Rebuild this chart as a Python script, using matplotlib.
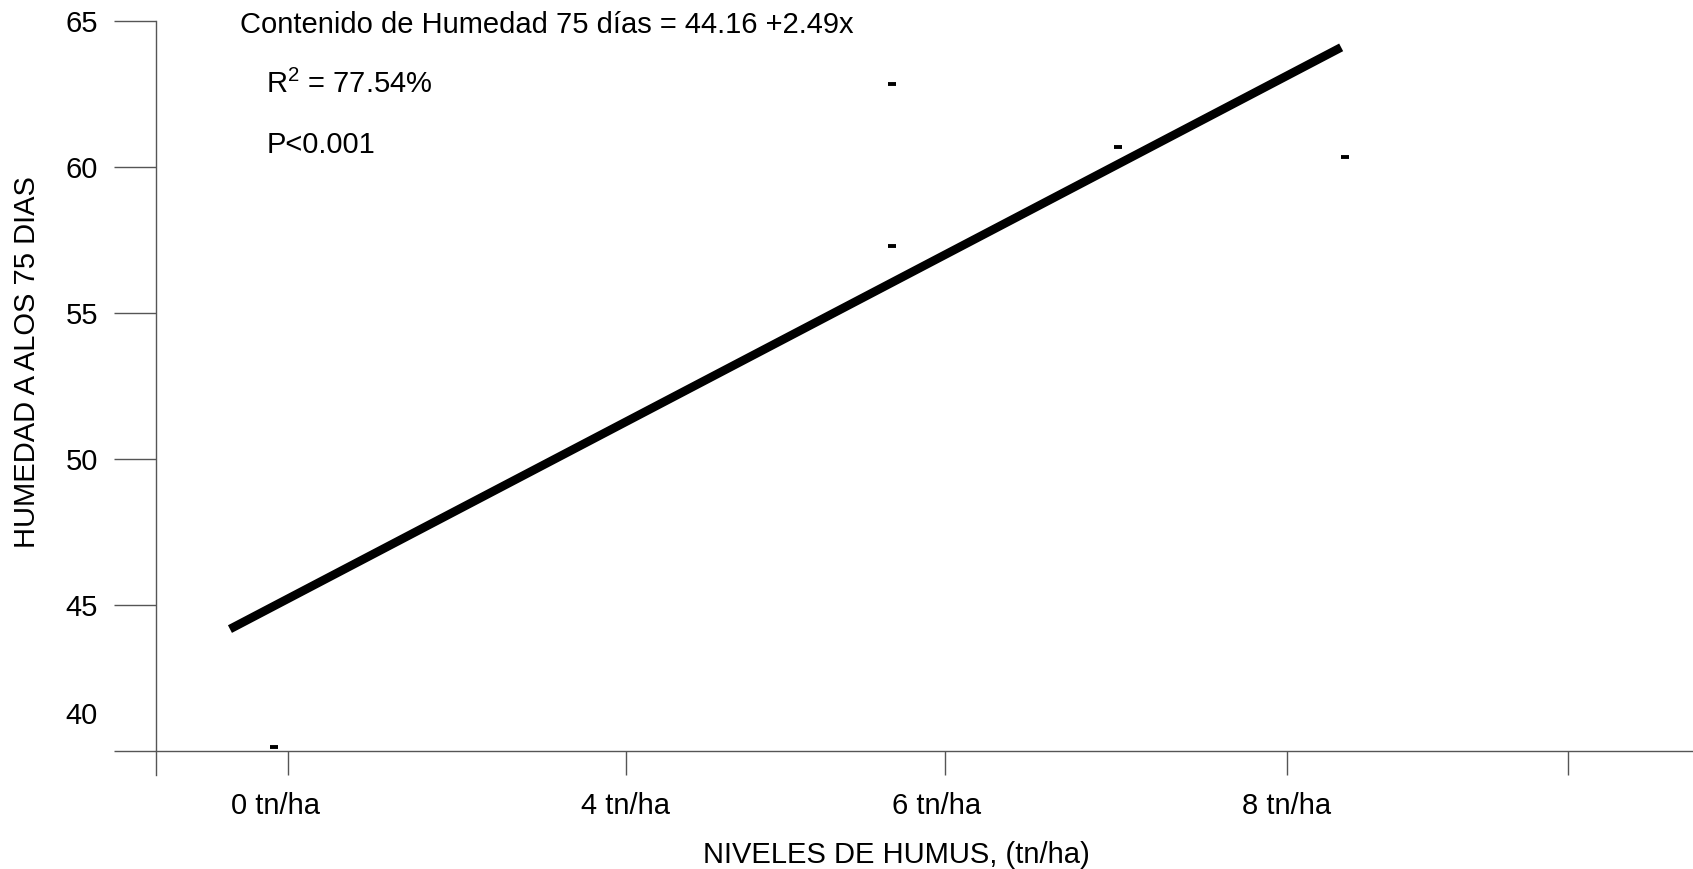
import matplotlib.pyplot as plt
from matplotlib.ticker import FixedLocator

plt.rcParams['font.family'] = ['Liberation Sans', 'DejaVu Sans']
plt.rcParams['mathtext.default'] = 'regular'

# Datos (eje x en unidades de la recta de regresion)
puntos_x = [0.318, 4.765, 4.765, 6.39, 8.03]
puntos_y = [40.13, 62.82, 57.29, 60.68, 60.31]
intercepto = 44.16
pendiente = 2.49
recta_x = [0, 8]
etiquetas_x = ["0 tn/ha", "4 tn/ha", "6 tn/ha", "8 tn/ha"]
pos_etiquetas_x = [0.326, 2.85, 5.09, 7.61]
pos_marcas_x = [0.42, 2.85, 5.146, 7.61, 9.63]
marcas_y = [40, 45, 50, 55, 60, 65]
etiquetas_y = ["", "45", "50", "55", "60", "65"]

W, H = 1693, 869
fig = plt.figure(figsize=(W / 100, H / 100), dpi=100)
ax = fig.add_axes([155.5 / W, 1 - 774.5 / H, 1 - 155.5 / W, (774.5 - 20.5) / H])
ax.set_xlim(-0.536, 10.533)
ax.set_ylim(39.18, 65)

# Recta de regresion
recta_y = [intercepto + pendiente * x for x in recta_x]
ax.plot(recta_x, recta_y, color="black", linewidth=6.2, solid_capstyle="butt")

# Puntos (guiones pequenos)
ax.plot(puntos_x, puntos_y, linestyle="none", marker="_", markersize=6,
        markeredgewidth=2.8, color="black", clip_on=False)

# Ejes
for lado in ["top", "right"]:
    ax.spines[lado].set_visible(False)
ax.spines["bottom"].set_position(("data", 40))
for lado in ["left", "bottom"]:
    ax.spines[lado].set_color("#555555")
    ax.spines[lado].set_linewidth(1.0)

ax.set_yticks(marcas_y)
ax.set_yticklabels(etiquetas_y)
ax.tick_params(axis="y", direction="out", length=30, width=1.0, color="#555555",
               pad=11.5, labelsize=21)

ax.xaxis.remove_overlapping_locs = False
ax.xaxis.set_major_locator(FixedLocator(pos_etiquetas_x))
ax.set_xticklabels(etiquetas_x)
ax.xaxis.set_minor_locator(FixedLocator(pos_marcas_x))
ax.tick_params(axis="x", which="major", length=0, pad=30, labelsize=21)
ax.tick_params(axis="x", which="minor", direction="out", length=17.3, width=1.0,
               color="#555555")

ax.annotate("40", xy=(0, 40), xycoords=("axes fraction", "data"),
            xytext=(-42, 25), textcoords="offset points",
            ha="right", va="center", fontsize=21)

ax.set_xlabel("NIVELES DE HUMUS, (tn/ha)", fontsize=21)
ax.xaxis.set_label_coords((896 - 155.5) / (W - 155.5), -(841 - 774.5) / (774.5 - 20.5))
ax.set_ylabel("HUMEDAD A ALOS 75 DIAS", fontsize=21)
ax.yaxis.set_label_coords((41 - 155.5) / (W - 155.5), (774.5 - 362) / (774.5 - 20.5))

# Ecuacion y estadisticos
fig.text(240 / W, 1 - 25 / H, "Contenido de Humedad 75 días = 44.16 +2.49x",
         fontsize=21, va="center", ha="left")
fig.text(266.5 / W, 1 - 84 / H, "R$^2$ = 77.54%", fontsize=21, va="center", ha="left")
fig.text(266.5 / W, 1 - 145 / H, "P<0.001", fontsize=21, va="center", ha="left")

fig.savefig("out.png", dpi=100)
